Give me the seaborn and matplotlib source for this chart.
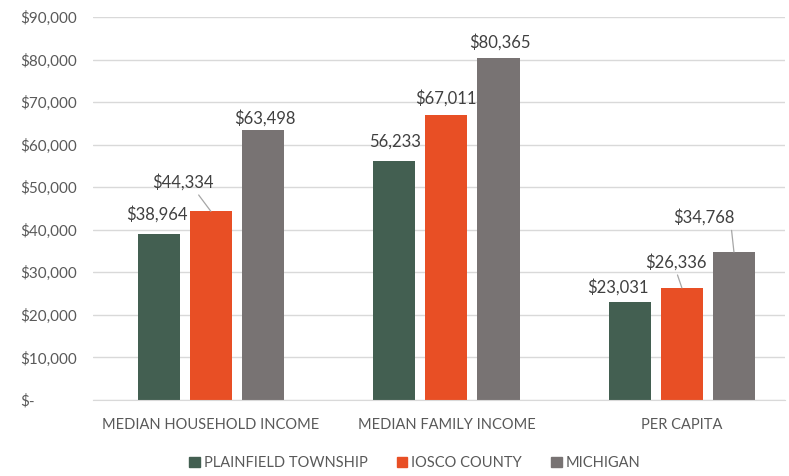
import pandas as pd
import matplotlib
matplotlib.use("Agg")
import matplotlib.pyplot as plt
import seaborn as sns

# datos del grafico
categorias = ["MEDIAN HOUSEHOLD INCOME", "MEDIAN FAMILY INCOME", "PER CAPITA"]
series = ["PLAINFIELD TOWNSHIP", "IOSCO COUNTY", "MICHIGAN"]
plainfield = [38964, 56233, 23031]
iosco = [44334, 67011, 26336]
michigan = [63498, 80365, 34768]
etiquetas_plainfield = ["$38,964", "56,233", "$23,031"]
etiquetas_iosco = ["$44,334", "$67,011", "$26,336"]
etiquetas_michigan = ["$63,498", "$80,365", "$34,768"]
yticks = [0, 10000, 20000, 30000, 40000, 50000, 60000, 70000, 80000, 90000]
ytick_labels = ["$-", "$10,000", "$20,000", "$30,000", "$40,000", "$50,000",
                "$60,000", "$70,000", "$80,000", "$90,000"]

colores = ["#435F51", "#E84F25", "#787373"]
gris_texto = "#595959"

df = pd.DataFrame({
    "categoria": categorias * 3,
    "serie": [s for s in series for _ in categorias],
    "valor": plainfield + iosco + michigan,
})

sns.set_style("white")
plt.rcParams["font.family"] = ["Lato", "DejaVu Sans"]

fig = plt.figure(figsize=(7.89, 4.76), dpi=100)
ax = fig.add_axes([0.118, 0.1597, 0.877, 0.8046])

sns.barplot(data=df, x="categoria", y="valor", hue="serie", order=categorias,
            hue_order=series, palette=colores, saturation=1, width=0.663,
            gap=0.19, linewidth=0, ax=ax, legend=False)

ax.set_ylim(0, 90000)
ax.set_xlim(-0.5, 2.438)
ax.set_yticks(yticks)
ax.set_yticklabels(ytick_labels, ha="left")
ax.tick_params(axis="y", length=0, pad=52.6, labelsize=11, labelcolor=gris_texto)
ax.tick_params(axis="x", length=0, pad=13, labelsize=10.5, labelcolor=gris_texto)
ax.set_xlabel("")
ax.set_ylabel("")
ax.grid(axis="y", color="#D9D9D9", lw=1)
ax.set_axisbelow(True)
for lado in ["top", "right", "left"]:
    ax.spines[lado].set_visible(False)
ax.spines["bottom"].set_color("#D9D9D9")

# etiquetas de datos (desplazamientos en puntos, como en Excel)
todas = [etiquetas_plainfield, etiquetas_iosco, etiquetas_michigan]
desplaz = [
    [(-1.5, 14.4), (0.7, 13.7), (-8.6, 10.8)],
    [(-20, 21), (0, 12), (-4.3, 18.7)],
    [(1.4, 8.6), (0.7, 11.5), (-22, 25)],
]
lineas = {(1, 0): (0.7, 0.0), (1, 2): (0.5, 0.0), (2, 2): (0.95, 0.0)}
for i, cont in enumerate(ax.containers):
    for j, barra in enumerate(cont):
        x = barra.get_x() + barra.get_width() / 2
        y = barra.get_height()
        props = None
        if (i, j) in lineas:
            props = dict(arrowstyle="-", color="#A6A6A6", lw=0.9,
                         shrinkA=1, shrinkB=0, relpos=lineas[(i, j)])
        ax.annotate(todas[i][j], xy=(x, y), xytext=desplaz[i][j],
                    textcoords="offset points", ha="center", va="center",
                    fontsize=12, color="#404040", arrowprops=props)

# leyenda
handles = [plt.Rectangle((0, 0), 1, 1, color=c) for c in colores]
fig.legend(handles, series, loc="center", bbox_to_anchor=(0.526, 0.027),
           ncol=3, frameon=False, fontsize=10.5, labelcolor=gris_texto,
           handlelength=0.7, handleheight=0.7, handletextpad=0.3, columnspacing=2.0)

plt.savefig("out.png", dpi=100)
